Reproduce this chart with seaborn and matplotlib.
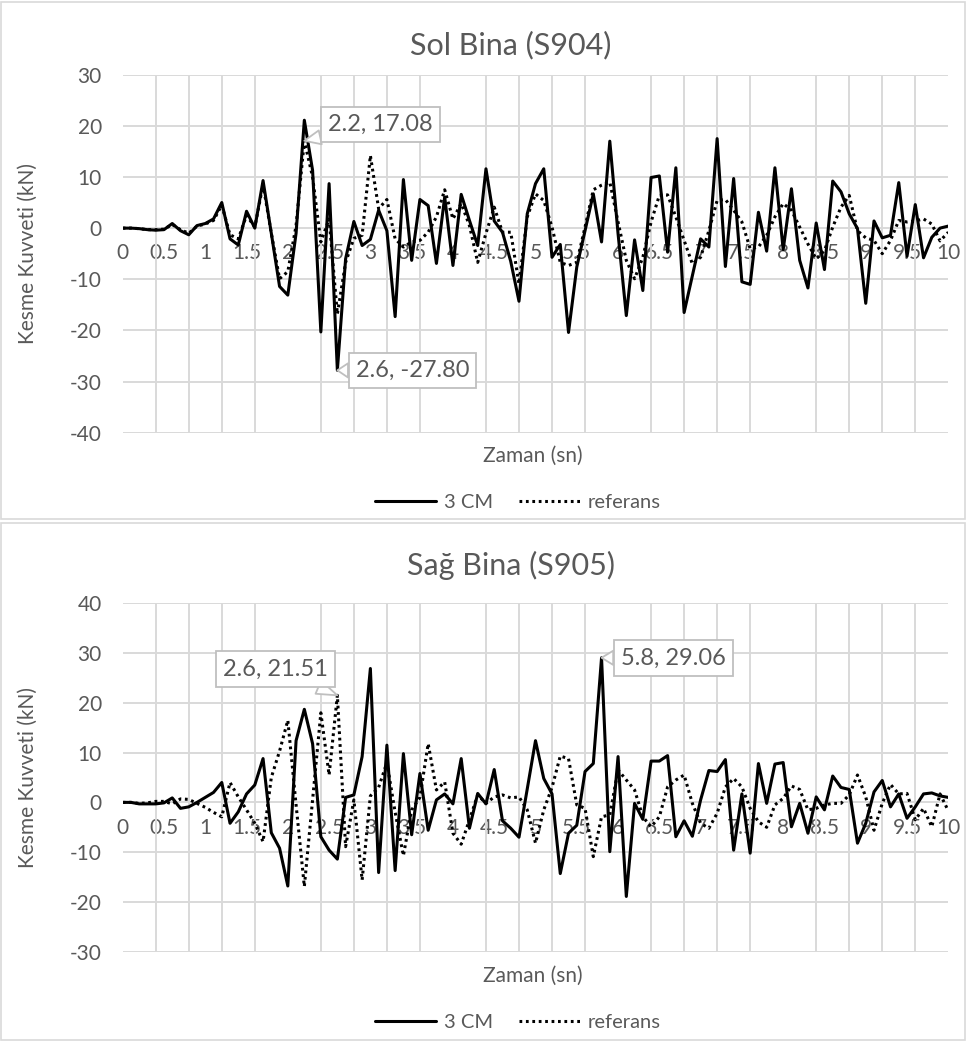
import numpy as np
import pandas as pd
import seaborn as sns
import matplotlib.pyplot as plt
from matplotlib.patches import Rectangle
from matplotlib.ticker import MultipleLocator, FormatStrFormatter

# ---- data: shear force (kN) sampled every 0.1 s from 0 to 10 s ----
zaman = np.round(np.arange(101) * 0.1, 1)

sol_3cm = [
    0.0, 0.0, -0.1, -0.3, -0.4, -0.3, 0.9, -0.5, -1.3, 0.5,
    0.9, 1.8, 5.0, -2.1, -3.3, 3.3, 0.0, 9.3, -1.0, -11.4,
    -13.1, -1.0, 21.1, 11.3, -20.3, 8.7, -27.80, -6.0, 1.3, -3.4,
    -2.2, 3.5, -0.5, -17.3, 9.5, -6.3, 5.6, 4.4, -6.9, 6.1,
    -7.3, 6.6, 1.5, -3.4, 11.6, 1.4, -0.8, -6.5, -14.3, 2.8,
    8.7, 11.6, -5.7, -3.2, -20.4, -7.6, -0.5, 6.7, -2.7, 17.0,
    -1.1, -17.1, -2.3, -12.2, 9.9, 10.2, -4.7, 11.8, -16.5, -9.3,
    -2.1, -3.7, 17.5, -7.5, 9.7, -10.5, -11.0, 3.1, -4.5, 11.8,
    -4.2, 7.7, -6.3, -11.7, 1.0, -8.1, 9.2, 7.1, 2.8, -0.1,
    -14.7, 1.4, -1.9, -1.4, 8.9, -5.5, 4.6, -5.8, -1.8, 0.0,
    0.4,
]
sol_ref = [
    0.0, 0.0, -0.1, -0.3, -0.3, -0.2, 0.7, -0.3, -1.0, 0.4,
    0.8, 1.5, 4.5, -1.3, -2.1, 2.5, 0.2, 8.5, -1.0, -9.9,
    -8.5, 0.5, 17.08, 10.0, -2.7, 1.8, -16.8, -6.7, -2.0, -1.4,
    14.2, 3.8, 5.6, -2.1, -3.7, -2.7, -2.4, -0.8, 2.2, 7.5,
    1.8, 4.8, 0.5, -6.7, -1.0, 4.1, -0.8, -0.8, -10.9, 2.2,
    6.7, 5.4, 0.2, -6.7, -7.3, -6.7, 0.2, 7.5, 8.4, 9.0,
    1.2, -6.3, -9.9, -5.7, 1.2, 6.4, 6.5, 2.2, -2.4, -7.0,
    -5.7, -0.5, 5.4, 5.6, 3.5, 1.2, -4.0, -3.7, -1.4, 2.2,
    4.8, 3.5, 0.2, -3.1, -6.0, -4.4, 0.2, 4.1, 6.4, -0.5,
    -1.9, -2.4, -5.0, -2.4, 1.5, 1.2, 1.4, 1.8, 0.8, -2.5,
    -0.8,
]
sag_3cm = [
    0.0, 0.0, -0.3, -0.3, -0.3, -0.1, 0.9, -1.2, -0.9, 0.0,
    1.0, 2.0, 4.0, -4.2, -1.9, 1.7, 3.5, 8.8, -6.1, -9.2,
    -16.8, 12.4, 18.7, 11.8, -6.9, -9.6, -11.4, 1.0, 1.5, 9.2,
    26.9, -14.1, 11.5, -13.7, 9.8, -6.5, 5.8, -5.6, 0.5, 1.7,
    -0.3, 8.8, -5.2, 1.8, -0.3, 6.6, -3.7, -5.2, -7.0, 2.7,
    12.4, 4.8, 1.7, -14.3, -6.2, -4.6, 6.2, 7.8, 29.06, -9.9,
    9.2, -18.9, -0.2, -3.4, 8.3, 8.3, 9.4, -6.9, -3.7, -6.8,
    0.5, 6.4, 6.2, 8.6, -9.6, 1.7, -10.2, 7.8, -0.2, 7.7,
    8.0, -4.9, -0.2, -6.2, 1.1, -1.5, 5.3, 3.0, 2.6, -8.2,
    -4.2, 2.1, 4.4, -0.9, 1.7, -3.2, -0.9, 1.7, 1.9, 1.3,
    1.0,
]
sag_ref = [
    0.0, 0.0, -0.2, -0.1, 0.2, 0.2, -0.3, 0.7, 0.6, -0.2,
    -1.0, -2.0, -2.9, 4.0, 1.1, -1.5, -4.2, -7.9, 5.0, 10.3,
    16.5, -0.5, -16.9, 0.5, 18.0, 5.5, 21.51, -8.9, 0.5, -15.6,
    1.3, 3.0, 8.0, -2.0, -10.7, -1.5, 1.0, 11.8, 2.5, 4.1,
    -6.2, -8.4, -3.5, 1.5, -0.2, 1.1, 1.5, 0.9, 1.1, -1.5,
    -8.2, -1.5, 3.0, 9.3, 8.8, -0.5, -1.2, -10.9, -2.9, -2.5,
    6.5, 4.5, 2.5, -2.9, -4.9, -2.9, 3.1, 4.5, 5.5, -0.2,
    -4.2, -5.2, -2.2, 3.1, 4.8, 3.1, -1.2, -3.9, -5.0, -0.5,
    0.8, 3.3, 2.6, -1.5, -1.2, -0.5, -0.2, -0.2, 1.5, 5.5,
    1.1, -5.6, -0.2, 3.6, 1.7, 1.8, -3.5, -1.2, -4.9, 1.7,
    -1.7,
]

titles = ["Sol Bina (S904)", "Sağ Bina (S905)"]
series_names = ["3 CM", "referans"]
x_title = "Zaman (sn)"
y_title = "Kesme Kuvveti (kN)"

# ---- styling ----
sns.set_theme(style="white")
plt.rcParams["font.family"] = ["Lato", "DejaVu Sans"]
plt.rcParams["axes.unicode_minus"] = False
GRID = "#d9d9d9"
TXT = "#595959"
BOX = "#bfbfbf"

W, H = 968, 1042
fig = plt.figure(figsize=(W / 100, H / 100), dpi=100)
fig.patch.set_facecolor("white")


def fx(px):
    return px / W


def fy(py):
    return 1 - py / H


# outer chart frames
for (x0, y0, x1, y1) in [(1, 2, 965, 519), (1, 523, 965, 1040)]:
    fig.patches.append(Rectangle((fx(x0), fy(y1)), fx(x1 - x0), (y1 - y0) / H,
                                 transform=fig.transFigure, fill=False,
                                 ec=GRID, lw=1.2))

panels = [
    dict(title=titles[0], cm=sol_3cm, ref=sol_ref, ylim=(-40, 30),
         area=(122.7, 74.7, 948.3, 432.7), dy=0,
         callouts=[("ref", 22, (3.12, 20.3)), ("cm", 26, (3.51, -27.9))]),
    dict(title=titles[1], cm=sag_3cm, ref=sag_ref, ylim=(-30, 40),
         area=(122.7, 603.3, 948.3, 951.7), dy=520,
         callouts=[("ref", 26, (1.85, 26.8)), ("cm", 58, (6.67, 29.0))]),
]

for p in panels:
    l, t, r, b = p["area"]
    ax = fig.add_axes([fx(l), fy(b), (r - l) / W, (b - t) / H])
    df = pd.DataFrame({"Zaman": zaman, series_names[0]: p["cm"],
                       series_names[1]: p["ref"]})
    sns.lineplot(data=df, x="Zaman", y=series_names[0], ax=ax, color="black",
                 lw=2.2, label=series_names[0], zorder=3)
    sns.lineplot(data=df, x="Zaman", y=series_names[1], ax=ax, color="black",
                 lw=2.2, ls=(0, (0.9, 1.2)), label=series_names[1], zorder=3)

    ax.set_xlim(0, 10)
    ax.set_ylim(*p["ylim"])
    ax.xaxis.set_major_locator(MultipleLocator(0.5))
    ax.xaxis.set_minor_locator(MultipleLocator(0.4))
    ax.xaxis.set_major_formatter(FormatStrFormatter("%g"))
    ax.yaxis.set_major_locator(MultipleLocator(10))
    ax.grid(False)
    ax.grid(True, which="minor", axis="x", color=GRID, lw=1.4)
    ax.grid(True, which="major", axis="y", color=GRID, lw=1.4)
    ax.set_axisbelow(True)
    for s in ax.spines.values():
        s.set_visible(False)
    ax.spines["bottom"].set_position(("data", 0))
    ax.tick_params(axis="both", which="both", length=0, colors=TXT,
                   labelsize=15)
    ax.tick_params(axis="x", pad=11)
    ax.tick_params(axis="y", pad=15)
    ax.set_xlabel("")
    ax.set_ylabel("")

    # callouts with data values
    for key, idx, (tx, ty) in p["callouts"]:
        vals = p["cm"] if key == "cm" else p["ref"]
        xv, yv = zaman[idx], vals[idx]
        ax.annotate(f"{xv:g}, {yv:.2f}", xy=(xv, yv), xytext=(tx, ty),
                    textcoords="data", ha="center", va="center",
                    fontsize=17, color=TXT, zorder=6,
                    bbox=dict(boxstyle="square,pad=0.3", fc="white",
                              ec=BOX, lw=1.3),
                    arrowprops=dict(arrowstyle="wedge,tail_width=0.6",
                                    fc="white", ec=BOX, lw=1.3,
                                    shrinkA=0, shrinkB=0))

    dy = p["dy"]
    fig.text(fx(511), fy(45 + dy), p["title"], ha="center", va="center",
             fontsize=22, color=TXT)
    fig.text(fx(533), fy(456 + dy), x_title, ha="center", va="center",
             fontsize=15, color=TXT)
    fig.text(fx(28), fy((t + b) / 2), y_title, ha="center", va="center",
             rotation=90, fontsize=15, color=TXT)
    ax.legend(loc="center", bbox_to_anchor=(fx(518), fy(502 + dy)),
              bbox_transform=fig.transFigure, ncol=2, frameon=False,
              fontsize=14.5, labelcolor=TXT, handlelength=3.0,
              columnspacing=1.3, handletextpad=0.4)

fig.savefig("out.png", dpi=100, facecolor="white")
